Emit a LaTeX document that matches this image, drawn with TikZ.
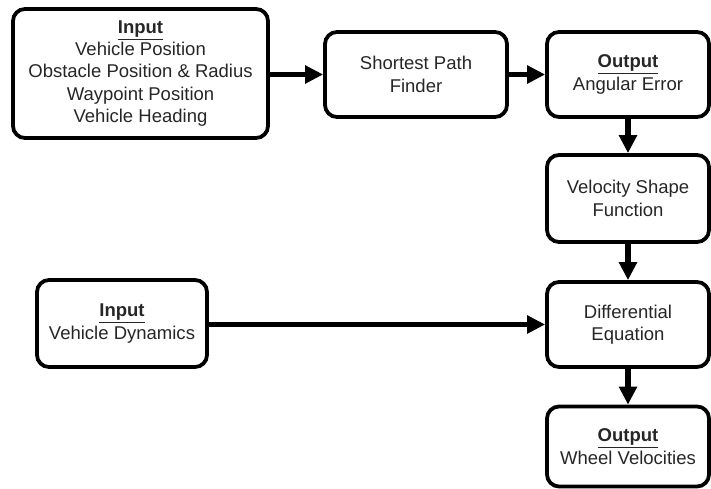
\documentclass[tikz,border=0pt]{standalone}
\usepackage{fontspec}
\setmainfont{Liberation Sans}
\usetikzlibrary{arrows.meta}

\begin{document}
\begin{tikzpicture}[x=0.03cm, y=-0.03cm,
		blk/.style={draw, line width=3.2pt, rounded corners=0.36cm, align=center,
			inner sep=0pt, font=\fontsize{15.8}{19}\selectfont, text=black!85},
		arr/.style={line width=4.6pt, -{Triangle[length=0.54cm,width=0.52cm]}}]
		%%%%% START %%%%%
		
		\useasboundingbox (0, 0) rectangle (711, 489);
		
		\node[blk, minimum width=7.65cm, minimum height=3.87cm] (in1) at (140.5, 73.5)
			{\underline{\textbf{Input}}\\Vehicle Position\\Obstacle Position \& Radius\\Waypoint Position\\Vehicle Heading};
		\node[blk, minimum width=5.46cm, minimum height=2.55cm] (spf) at (416, 74.5) {Shortest Path\\Finder};
		\node[blk, minimum width=4.86cm, minimum height=2.55cm] (out1) at (628, 74.5) {\underline{\textbf{Output}}\\Angular Error};
		\node[blk, minimum width=4.86cm, minimum height=2.61cm] (vsf) at (628, 198.5) {Velocity Shape\\Function};
		\node[blk, minimum width=4.86cm, minimum height=2.55cm] (de) at (628, 324.5) {Differential\\Equation};
		\node[blk, minimum width=5.1cm, minimum height=2.61cm] (in2) at (122, 323.5) {\underline{\textbf{Input}}\\Vehicle Dynamics};
		\node[blk, minimum width=4.86cm, minimum height=2.4cm] (out2) at (628, 446.5) {\underline{\textbf{Output}}\\Wheel Velocities};
		
		\draw[arr] (in1.east |- spf.west) -- (spf.west);
		\draw[arr] (spf) -- (out1);
		\draw[arr] (out1) -- (vsf);
		\draw[arr] (vsf) -- (de);
		\draw[arr] (in2.east |- de.west) -- (de.west);
		\draw[arr] (de) -- (out2);
		
		%%%%% END %%%%%
\end{tikzpicture}
\end{document}
